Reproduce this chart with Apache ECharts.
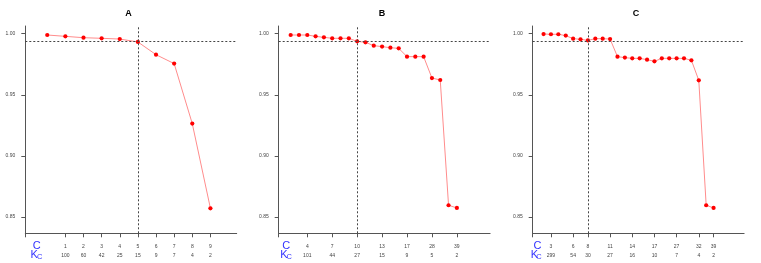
<!DOCTYPE html>
<html>
<head>
<meta charset="utf-8">
<script src="https://cdn.jsdelivr.net/npm/echarts@6/dist/echarts.min.js"></script>
<style>html,body{margin:0;padding:0;background:#fff}#c{width:761px;height:263px}</style>
</head>
<body>
<div id="c"></div>
<script>
// ---- data ----
const titles = ['A', 'B', 'C'];
const valuesA = [0.9989, 0.9978, 0.9967, 0.9962, 0.9956, 0.9932, 0.9828, 0.9755, 0.9264, 0.8571];
const valuesB = [0.9989, 0.9989, 0.9989, 0.9978, 0.9970, 0.9962, 0.9962, 0.9962, 0.9937, 0.9929, 0.9902,
                 0.9894, 0.9885, 0.9880, 0.9812, 0.9812, 0.9812, 0.9637, 0.9621, 0.8596, 0.8574];
const valuesC = [0.9997, 0.9995, 0.9995, 0.9984, 0.9959, 0.9954, 0.9945, 0.9959, 0.9959, 0.9956, 0.9812,
                 0.9804, 0.9798, 0.9798, 0.9787, 0.9774, 0.9798, 0.9798, 0.9798, 0.9798, 0.9782, 0.9618,
                 0.8596, 0.8574];
const tickIdxA = [1, 2, 3, 4, 5, 6, 7, 8, 9];
const cLabelsA = [1, 2, 3, 4, 5, 6, 7, 8, 9];
const kLabelsA = [100, 60, 42, 25, 15, 9, 7, 4, 2];
const tickIdxB = [2, 5, 8, 11, 14, 17, 20];
const cLabelsB = [4, 7, 10, 13, 17, 28, 39];
const kLabelsB = [101, 44, 27, 15, 9, 5, 2];
const tickIdxC = [1, 4, 6, 9, 12, 15, 18, 21, 23];
const cLabelsC = [3, 6, 8, 11, 14, 17, 27, 32, 39];
const kLabelsC = [299, 54, 30, 27, 16, 10, 7, 4, 2];
const cutIdx = [5, 8, 6];
const hLine = 0.9937;
const yTicks = [0.85, 0.90, 0.95, 1.00];

// ---- layout ----
const panels = [
  {vals: valuesA, idx: tickIdxA, c: cLabelsA, k: kLabelsA, left: 25.3, xmin: -1.21, xmax: 10.45, titleX: 128.5,
   cx: 36.7, kx: 34.2, sx: 39.7},
  {vals: valuesB, idx: tickIdxB, c: cLabelsB, k: kLabelsB, left: 278.7, xmin: -1.44, xmax: 24.0, titleX: 382,
   cx: 286.3, kx: 283.8, sx: 289.3},
  {vals: valuesC, idx: tickIdxC, c: cLabelsC, k: kLabelsC, left: 532.7, xmin: -1.47, xmax: 27.13, titleX: 636,
   cx: 537.5, kx: 534.3, sx: 539}
];
const TOP = 26, HEIGHT = 207.3, WIDTH = 211.4;
const FONT = '"Liberation Sans", Arial, sans-serif';
const axisCol = '#555';

const grid = [], xAxis = [], yAxis = [], series = [], graphic = [];
panels.forEach((p, i) => {
  grid.push({left: p.left, top: TOP, width: WIDTH, height: HEIGHT});
  xAxis.push({
    type: 'value', gridIndex: i, min: p.xmin, max: p.xmax,
    splitLine: {show: false},
    axisLine: {show: true, onZero: false, lineStyle: {color: axisCol, width: 1}},
    axisTick: {show: true, length: 4, customValues: [p.xmin].concat(p.idx), lineStyle: {color: axisCol}},
    axisLabel: {
      customValues: p.idx, margin: 9, fontSize: 5, lineHeight: 8.6, color: '#444', fontFamily: FONT,
      formatter: v => { const j = p.idx.indexOf(Math.round(v)); return j < 0 ? '' : p.c[j] + '\n' + p.k[j]; }
    }
  });
  yAxis.push({
    type: 'value', gridIndex: i, min: 0.83666, max: 1.00627,
    splitLine: {show: false},
    axisLine: {show: true, onZero: false, lineStyle: {color: axisCol, width: 1}},
    axisTick: {show: true, length: 4, customValues: yTicks, lineStyle: {color: axisCol}},
    axisLabel: {customValues: yTicks, margin: 10, fontSize: 5, color: '#444', fontFamily: FONT,
      formatter: v => v.toFixed(2)}
  });
  series.push({
    type: 'line', xAxisIndex: i, yAxisIndex: i,
    data: p.vals.map((v, j) => [j, v]),
    symbol: 'circle', symbolSize: 4.2,
    itemStyle: {color: '#ff0000'},
    lineStyle: {color: '#ff8c8c', width: 1},
    emphasis: {disabled: true},
    animation: false,
    z: 3,
    markLine: {
      silent: true, symbol: 'none', animation: false, precision: 6,
      label: {show: false},
      lineStyle: {color: '#444', type: [2, 2], width: 1},
      data: [{yAxis: hLine}, {xAxis: cutIdx[i]}]
    }
  });
  graphic.push(
    {type: 'text', x: p.titleX, y: 13.7, style: {text: titles[i], font: 'bold 9px ' + FONT, fill: '#000',
      align: 'center', verticalAlign: 'middle'}},
    {type: 'text', x: p.cx, y: 246.3, style: {text: 'C', font: '11px ' + FONT, fill: '#3333ff',
      align: 'center', verticalAlign: 'middle'}},
    {type: 'text', x: p.kx, y: 254.5, style: {text: 'K', font: '11px ' + FONT, fill: '#3333ff',
      align: 'center', verticalAlign: 'middle'}},
    {type: 'text', x: p.sx, y: 257, style: {text: 'C', font: '7.5px ' + FONT, fill: '#3333ff',
      align: 'center', verticalAlign: 'middle'}}
  );
});

const chart = echarts.init(document.getElementById('c'), null, {renderer: 'canvas'});
chart.setOption({animation: false, grid, xAxis, yAxis, series, graphic});
</script>
</body>
</html>
